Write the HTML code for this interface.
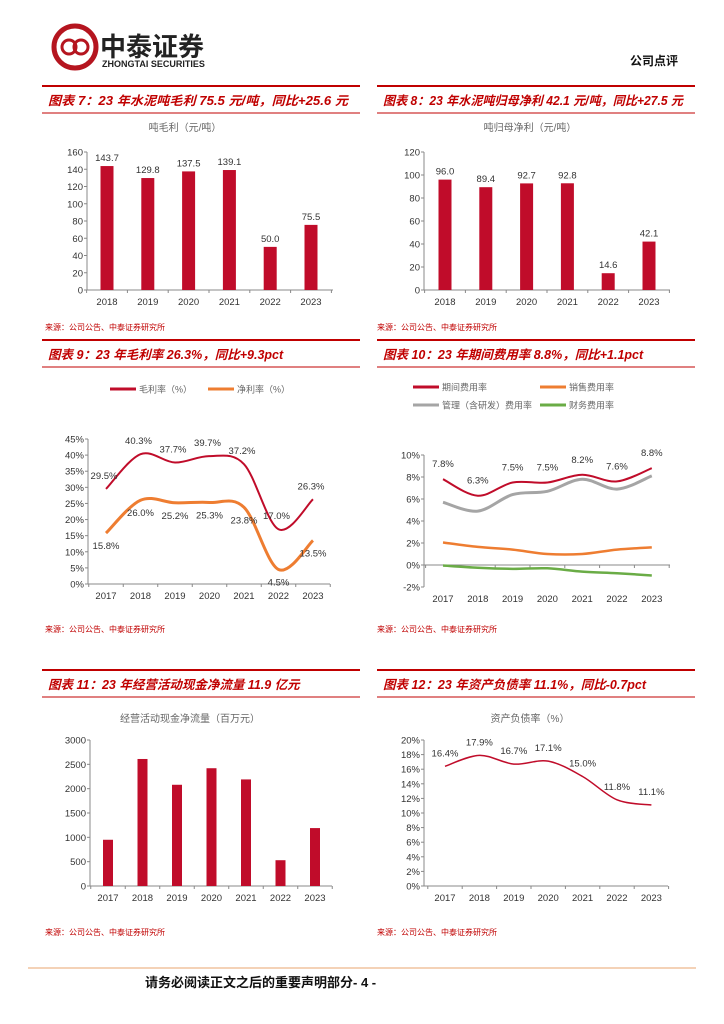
<!DOCTYPE html>
<html><head><meta charset="utf-8">
<style>
body{margin:0;width:724px;height:1024px;background:#fff;overflow:hidden;font-family:"Liberation Sans","Noto Sans CJK SC",sans-serif;}
svg{display:block}
</style></head>
<body>
<svg id="s" width="724" height="1024" xmlns="http://www.w3.org/2000/svg" font-family="Liberation Sans, Noto Sans CJK SC, sans-serif">
<g>
 <circle cx="75" cy="47" r="21" fill="none" stroke="#b5151f" stroke-width="5"/>
 <circle cx="69" cy="47" r="7" fill="none" stroke="#b5151f" stroke-width="3"/>
 <circle cx="81" cy="47" r="7" fill="none" stroke="#b5151f" stroke-width="3"/>
 <text x="100" y="56" font-size="26" font-weight="bold" fill="#222">中泰证券</text>
 <text x="102" y="67" font-size="9" font-weight="bold" fill="#222">ZHONGTAI SECURITIES</text>
 <text x="630" y="65" font-size="12" font-weight="bold" fill="#111">公司点评</text>
</g>
<g id="titles"></g>
<g id="charts"></g>
<line x1="28" y1="968" x2="696" y2="968" stroke="#e9a46f" stroke-width="1"/>
<text x="145" y="987" font-size="13" font-weight="bold" fill="#111">请务必阅读正文之后的重要声明部分- 4 -</text>
</svg>
<script>
const years6=['2018','2019','2020','2021','2022','2023'];
const years7=['2017','2018','2019','2020','2021','2022','2023'];
const grossProfit=[143.7,129.8,137.5,139.1,50.0,75.5];
const netProfit=[96.0,89.4,92.7,92.8,14.6,42.1];
const grossMargin=[29.5,40.3,37.7,39.7,37.2,17.0,26.3];
const netMargin=[15.8,26.0,25.2,25.3,23.8,4.5,13.5];
const periodExp=[7.8,6.3,7.5,7.5,8.2,7.6,8.8];
const adminExp=[5.7,4.9,6.4,6.7,7.8,6.9,8.1];
const salesExp=[2.05,1.65,1.4,1.0,1.0,1.4,1.6];
const finExp=[-0.05,-0.25,-0.35,-0.3,-0.6,-0.75,-0.95];
const cashFlow=[950,2610,2080,2420,2190,530,1190];
const debtRatio=[16.4,17.9,16.7,17.1,15.0,11.8,11.1];

const NS='http://www.w3.org/2000/svg';
const root=document.getElementById('charts');
function el(tag,attrs,parent,text){const e=document.createElementNS(NS,tag);for(const k in attrs)e.setAttribute(k,attrs[k]);if(text!==undefined)e.textContent=text;(parent||root).appendChild(e);return e;}
const RED='#c00c2a',ORANGE='#ee7d31',GRAY='#a5a5a5',GREEN='#6aac46';

const titles=[[42,86,'图表 7：23 年水泥吨毛利 75.5 元/吨，同比+25.6 元'],[377,86,'图表 8：23 年水泥吨归母净利 42.1 元/吨，同比+27.5 元'],
[42,340,'图表 9：23 年毛利率 26.3%，同比+9.3pct'],[377,340,'图表 10：23 年期间费用率 8.8%，同比+1.1pct'],
[42,670,'图表 11：23 年经营活动现金净流量 11.9 亿元'],[377,670,'图表 12：23 年资产负债率 11.1%，同比-0.7pct']];
const tg=document.getElementById('titles');
titles.forEach((t,i)=>{
 const g=el('g',{},tg);
 
 
 el('line',{x1:t[0],y1:t[1],x2:t[0]+318,y2:t[1],stroke:'#c00000','stroke-width':2},g);
 el('line',{x1:t[0],y1:t[1]+27,x2:t[0]+318,y2:t[1]+27,stroke:'#c00000','stroke-width':1},g);
 el('text',{x:t[0]+6,y:t[1]+19,'font-size':12.5,'font-weight':'bold','font-style':'italic',fill:'#c00000',textLength:(i<2?300:undefined)||'',lengthAdjust:'spacingAndGlyphs'},g,t[2]);
});
tg.querySelectorAll('text').forEach(t=>{if(!t.getAttribute('textLength'))t.removeAttribute('textLength');});
[[45,330],[377,330],[45,632],[377,632],[45,935],[377,935]].forEach((p,i)=>{
 const s=el('text',{x:p[0],y:p[1],'font-size':8,fill:'#c00000'},root,'来源：公司公告、中泰证券研究所');
 
 
});

function axes(o){
 const g=el('g',{});
 
 
 const y=v=>o.y0-(v-o.vmin)/(o.vmax-o.vmin)*(o.y0-o.y1);
 const x=i=>o.xa+i*o.dx;
 for(let v=o.vmin;v<=o.vmax+1e-9;v+=o.step){
  const t=el('text',{x:o.axX-4,y:y(v)+3.5,'font-size':9.5,fill:'#333','text-anchor':'end'},g,(o.fmt?o.fmt(v):v));
  
  
  el('line',{x1:o.axX-3,y1:y(v),x2:o.axX,y2:y(v),stroke:'#888'},g);
 }
 el('line',{x1:o.axX,y1:o.y1,x2:o.axX,y2:o.yb||o.y0,stroke:'#888'},g);
 const z=y(o.zero||0);
 el('line',{x1:o.axX,y1:z,x2:o.axX2,y2:z,stroke:'#888'},g);
 o.cats.forEach((c,i)=>{
  el('line',{x1:x(i)+o.dx/2,y1:z,x2:x(i)+o.dx/2,y2:z+3,stroke:'#888'},g);
  const t=el('text',{x:x(i),y:(o.yb||o.y0)+15,'font-size':9.5,fill:'#333','text-anchor':'middle'},g,c);
  
  
 });
 el('line',{x1:x(0)-o.dx/2,y1:z,x2:x(0)-o.dx/2,y2:z+3,stroke:'#888'},g);
 if(o.title){const t=el('text',{x:o.tx,y:o.ty,'font-size':10,fill:'#666','text-anchor':'middle'},g,o.title);}
 return {g,x,y};
}
function bars(a,vals,w,labels){
 vals.forEach((v,i)=>{
  const r=el('rect',{x:a.x(i)-w/2,y:a.y(v),width:w,height:a.y(0)-a.y(v),fill:RED},a.g);
  
  
  if(labels){const t=el('text',{x:a.x(i),y:a.y(v)-5,'font-size':9.5,fill:'#333','text-anchor':'middle'},a.g,v.toFixed(1));}
 });
}
function smooth(pts){
 let d='M'+pts[0][0]+','+pts[0][1];
 for(let i=0;i<pts.length-1;i++){
  const p0=pts[i-1]||pts[i],p1=pts[i],p2=pts[i+1],p3=pts[i+2]||p2;
  const c1=[p1[0]+(p2[0]-p0[0])/6,p1[1]+(p2[1]-p0[1])/6],c2=[p2[0]-(p3[0]-p1[0])/6,p2[1]-(p3[1]-p1[1])/6];
  d+=` C${c1[0]},${c1[1]} ${c2[0]},${c2[1]} ${p2[0]},${p2[1]}`;
 }
 return d;
}
function line(a,vals,color,w,name){
 const p=el('path',{d:smooth(vals.map((v,i)=>[a.x(i),a.y(v)])),fill:'none',stroke:color,'stroke-width':w},a.g);
 
 
}
function labels(a,vals,dy,dx){
 vals.forEach((v,i)=>{const t=el('text',{x:a.x(i)+(dx||0),y:a.y(v)+dy,'font-size':9.5,fill:'#333','text-anchor':'middle'},a.g,v.toFixed(1)+'%');});
}
function legend(g,x,y,color,txt,w){
 const l=el('line',{x1:x,y1:y,x2:x+(w||26),y2:y,stroke:color,'stroke-width':3},g);
 
 
 const t=el('text',{x:x+(w||26)+3,y:y+3.5,'font-size':9,fill:'#666'},g,txt);
 
 
}

let a=axes({name:'chart-gross-profit',cats:years6,xa:107,dx:40.8,y0:290,y1:152,vmin:0,vmax:160,step:20,axX:87,axX2:333,title:'吨毛利（元/吨）',tx:185,ty:131});
bars(a,grossProfit,13,true);
a=axes({name:'chart-net-profit',cats:years6,xa:445,dx:40.8,y0:290,y1:152,vmin:0,vmax:120,step:20,axX:424,axX2:670,title:'吨归母净利（元/吨）',tx:530,ty:131});
bars(a,netProfit,13,true);
a=axes({name:'chart-margins',cats:years7,xa:106,dx:34.5,y0:584,y1:439,vmin:0,vmax:45,step:5,axX:88,axX2:330,fmt:v=>v+'%'});
legend(a.g,110,389,RED,'毛利率（%）');legend(a.g,208,389,ORANGE,'净利率（%）');
line(a,grossMargin,RED,2,'line-gross-margin');line(a,netMargin,ORANGE,3,'line-net-margin');
labels(a,grossMargin,-10,-2);labels(a,netMargin,16);
a=axes({name:'chart-expense-ratios',cats:years7,xa:443,dx:34.8,y0:587,y1:455,vmin:-2,vmax:10,step:2,axX:424,axX2:670,zero:0,fmt:v=>v+'%'});
legend(a.g,413,387,RED,'期间费用率');legend(a.g,540,387,ORANGE,'销售费用率');legend(a.g,413,405,GRAY,'管理（含研发）费用率');legend(a.g,540,405,GREEN,'财务费用率');
line(a,adminExp,GRAY,3,'line-admin-expense');line(a,salesExp,ORANGE,2.5,'line-sales-expense');line(a,finExp,GREEN,2.5,'line-finance-expense');line(a,periodExp,RED,2,'line-period-expense');
labels(a,periodExp,-12);
a=axes({name:'chart-operating-cashflow',cats:years7,xa:108,dx:34.5,y0:886,y1:740,vmin:0,vmax:3000,step:500,axX:90,axX2:332,title:'经营活动现金净流量（百万元）',tx:190,ty:722});
bars(a,cashFlow,10,false);
a=axes({name:'chart-debt-ratio',cats:years7,xa:445,dx:34.4,y0:886,y1:740,vmin:0,vmax:20,step:2,axX:424,axX2:668,fmt:v=>v+'%',title:'资产负债率（%）',tx:530,ty:722});
line(a,debtRatio,RED,1.5,'line-debt-ratio');labels(a,debtRatio,-10);
</script>
</body></html>
